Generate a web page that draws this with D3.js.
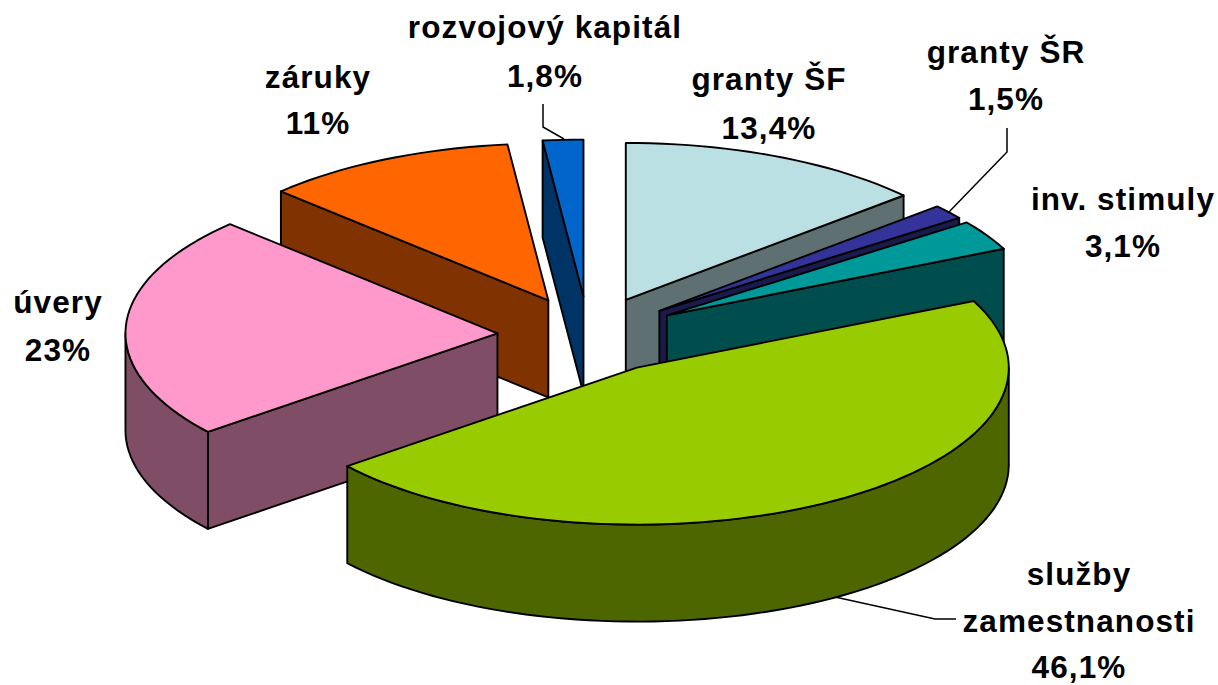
<!DOCTYPE html>
<html>
<head>
<meta charset="utf-8">
<title>Podpora</title>
<script src="https://cdn.jsdelivr.net/npm/d3@7"></script>
<style>
  html, body { margin: 0; background: #fff; overflow: hidden; }
  svg { display: block; }
  text { font-family: "Liberation Sans", Arial, sans-serif; font-weight: bold; font-size: 31.5px; letter-spacing: 1.1px; fill: #000; }
</style>
</head>
<body>
<svg id="graf" width="1218" height="685"></svg>
<script>
// hodnoty z grafu, v poradi od 12. hodiny v smere hodinovych ruciciek
const categories = ["granty ŠF", "granty ŠR", "inv. stimuly", "služby zamestnanosti", "úvery", "záruky", "rozvojový kapitál"];
const values = [13.4, 1.5, 3.1, 46.1, 23, 11, 1.75];
const valueLabels = ["13,4%", "1,5%", "3,1%", "46,1%", "23%", "11%", "1,8%"];

const topColors = ["#bbe0e3", "#333399", "#009999", "#99cc00", "#ff99cc", "#ff6600", "#0066cc"];
const wallColors = ["#5e7072", "#1a1a4d", "#004d4d", "#4d6600", "#804d66", "#803300", "#003366"];

// rozlozenie popisov: [x stredu, baseline prveho riadku, riadkovanie]
const labelLines = [["granty ŠF"], ["granty ŠR"], ["inv. stimuly"], ["služby", "zamestnanosti"], ["úvery"], ["záruky"], ["rozvojový kapitál"]];
const labelPos = [[769, 90, 49], [1006, 63, 47], [1123, 210, 47], [1079, 585, 46.5], [58, 313, 48], [318, 88, 46], [545, 38, 49]];

const leaders = [
  [[543, 104], [543, 127], [564, 139]],
  [[1007, 128], [1007, 152], [948, 213]],
  [[835, 597], [935, 619], [956, 619]]
];

const cx = 588.5, cy = 335, rx = 372, ry = 157;
const depth = 97, explode = 0.245;

const svg = d3.select("#graf");

// jednotkovy kruh -> stlacena elipsa
const x = d3.scaleLinear().domain([-1, 1]).range([cx - rx, cx + rx]);
const y = d3.scaleLinear().domain([-1, 1]).range([cy - ry, cy + ry]);

const pie = d3.pie().sort(null).value(d => d);
const arcs = pie(values).map((a, i) => {
  const mid = (a.startAngle + a.endAngle) / 2;
  a.index = i;
  a.ox = explode * Math.sin(mid);
  a.oy = -explode * Math.cos(mid);
  return a;
});

const line = d3.line().x(d => x(d[0]) ).y(d => y(d[1]) + (d[2] || 0));

function rim(a, from, to) {
  const n = Math.max(1, Math.ceil((to - from) / (Math.PI / 90)));
  return d3.range(n + 1).map(k => {
    const t = from + (to - from) * k / n;
    return [a.ox + Math.sin(t), a.oy - Math.cos(t)];
  });
}

function shape(pts, fill) {
  svg.append("path")
    .attr("d", line(pts) + "Z")
    .attr("fill", fill)
    .attr("stroke", "#000")
    .attr("stroke-width", 1.9)
    .attr("stroke-linejoin", "round");
}

function wall(pts, fill) {
  const down = pts.slice().reverse().map(p => [p[0], p[1], depth]);
  shape(pts.concat(down), fill);
}

// poradie kreslenia: najprv zadne vysece
const order = [5, 6, 0, 1, 2, 4, 3];
order.forEach(i => {
  const a = arcs[i];
  const apex = [a.ox, a.oy];
  const start = [a.ox + Math.sin(a.startAngle), a.oy - Math.cos(a.startAngle)];
  const end = [a.ox + Math.sin(a.endAngle), a.oy - Math.cos(a.endAngle)];

  if (Math.sin(a.endAngle) > 0.001) wall([apex, end], wallColors[i]);
  if (Math.sin(a.startAngle) < -0.001) wall([apex, start], wallColors[i]);

  // vonkajsia stena je vidiet len vpredu
  const from = Math.max(a.startAngle, Math.PI / 2);
  const to = Math.min(a.endAngle, 3 * Math.PI / 2);
  if (to > from) wall(rim(a, from, to), wallColors[i]);

  shape([apex].concat(rim(a, a.startAngle, a.endAngle)), topColors[i]);
});

// odkazove ciary
svg.selectAll(".leader")
  .data(leaders)
  .join("polyline")
  .attr("class", "leader")
  .attr("points", d => d.map(p => p.join(",")).join(" "))
  .attr("fill", "none")
  .attr("stroke", "#000")
  .attr("stroke-width", 1.5);

// popisy
categories.forEach((c, i) => {
  const [lx, ly, lh] = labelPos[i];
  const rows = labelLines[i].concat(valueLabels[i]);
  rows.forEach((r, k) => {
    svg.append("text")
      .attr("x", lx)
      .attr("y", ly + k * lh)
      .attr("text-anchor", "middle")
      .text(r);
  });
});
</script>
</body>
</html>
